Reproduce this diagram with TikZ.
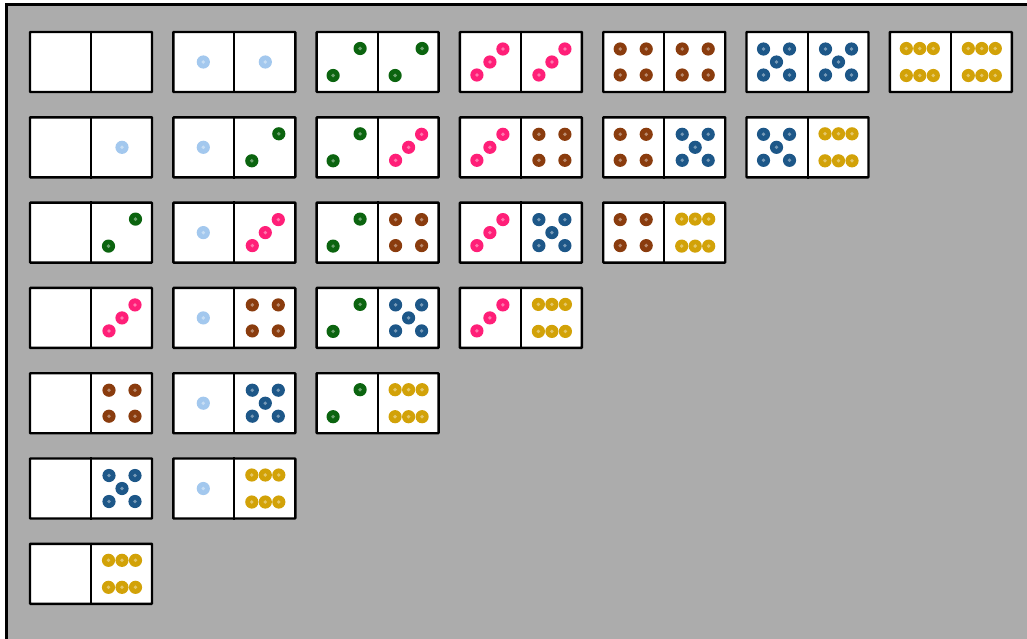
\documentclass[tikz,border=0pt]{standalone}
\definecolor{framegray}{HTML}{ACACAC}
\definecolor{pipA}{HTML}{A3C8EE}
\definecolor{pipB}{HTML}{0B640F}
\definecolor{pipC}{HTML}{FF1F78}
\definecolor{pipD}{HTML}{8A3C0E}
\definecolor{pipE}{HTML}{1D5788}
\definecolor{pipF}{HTML}{D2A208}
\tikzset{
  dominobox/.style={draw=black, fill=white, line width=2.4pt, minimum width=122pt, minimum height=60pt, inner sep=0pt, rounded corners=0.6pt},
  divider/.style={draw=black, line width=2pt},
}
\newcommand\pip[3]{\fill[#1] (#2,#3) circle[radius=6.6]; \fill[white,opacity=0.4] (#2,#3) circle[radius=1.9];}
\newcommand\drawpips[1]{\ifcase#1\relax
  \or \pip{pipA}{0}{0}
  \or \pip{pipB}{-13.5}{13.5}\pip{pipB}{13.5}{-13.5}
  \or \pip{pipC}{-13}{13}\pip{pipC}{0}{0}\pip{pipC}{13}{-13}
  \or \pip{pipD}{-13}{-13}\pip{pipD}{13}{-13}\pip{pipD}{-13}{13}\pip{pipD}{13}{13}
  \or \pip{pipE}{-13}{-13}\pip{pipE}{13}{-13}\pip{pipE}{0}{0}\pip{pipE}{-13}{13}\pip{pipE}{13}{13}
  \or \pip{pipF}{-13.5}{-13.5}\pip{pipF}{0}{-13.5}\pip{pipF}{13.5}{-13.5}\pip{pipF}{-13.5}{13.5}\pip{pipF}{0}{13.5}\pip{pipF}{13.5}{13.5}
  \fi}
\newcommand\domino[5]{%
  \node[dominobox] (#1) at (#2,#3) {};
  \draw[divider] (#1.north) -- (#1.south);
  \begin{scope}[shift={(#1.center)}]
    \begin{scope}[xshift=-31pt]\drawpips{#4}\end{scope}
    \begin{scope}[xshift=31pt]\drawpips{#5}\end{scope}
  \end{scope}}
\begin{document}
\begin{tikzpicture}[x=1pt,y=-1pt]
  \clip (0,0) rectangle (1027,638);
  \fill[white] (0,0) rectangle (1027,638);
  \draw[line width=3pt, fill=framegray] (6.5,4) rectangle (1060,670);
  \foreach \r in {0,...,6}{
    \pgfmathtruncatemacro\last{6-\r}
    \foreach \c in {0,...,\last}{
      \pgfmathtruncatemacro\b{\c+\r}
      \pgfmathsetmacro\cx{91+143.3*\c}
      \pgfmathsetmacro\cy{62+85.3*\r}
      \domino{d\c\b}{\cx}{\cy}{\c}{\b}
    }
  }
\end{tikzpicture}
\end{document}
